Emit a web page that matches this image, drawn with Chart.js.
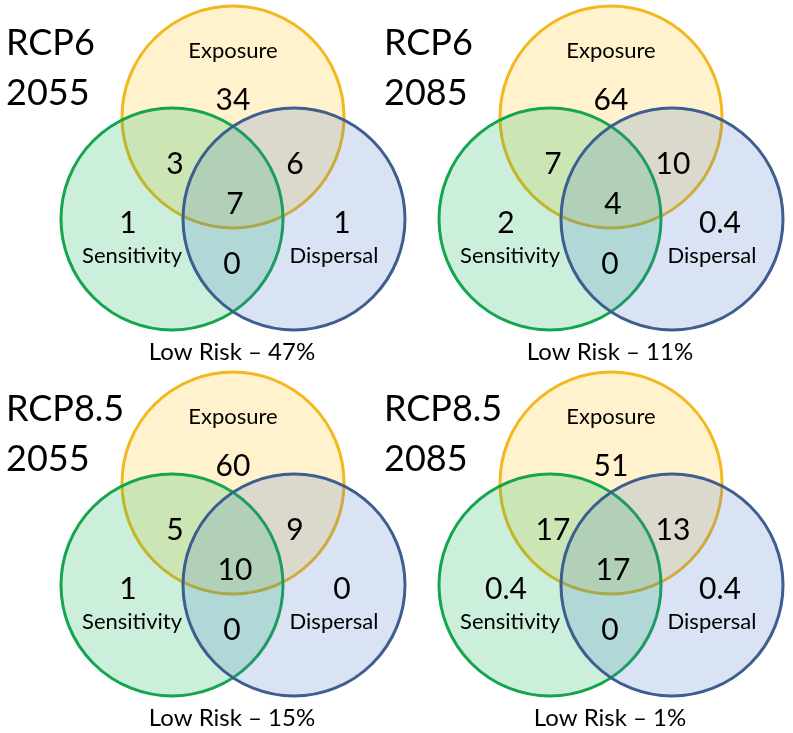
<!DOCTYPE html>
<html>
<head>
<meta charset="utf-8">
<script src="https://cdn.jsdelivr.net/npm/chart.js@4.4.1/dist/chart.umd.min.js"></script>
<style>
  html, body { margin: 0; padding: 0; background: #fff; }
  #venn { display: block; }
</style>
</head>
<body>
<canvas id="venn" width="793" height="733"></canvas>
<script>
// one entry per panel: RCP6 2055, RCP6 2085, RCP8.5 2055, RCP8.5 2085
const scenarios = ["RCP6", "RCP6", "RCP8.5", "RCP8.5"];
const years = ["2055", "2085", "2055", "2085"];
const setNames = ["Exposure", "Sensitivity", "Dispersal"];
const exposureOnly = [34, 64, 60, 51];
const exposureSensitivity = [3, 7, 5, 17];
const exposureDispersal = [6, 10, 9, 13];
const allThree = [7, 4, 10, 17];
const sensitivityOnly = [1, 2, 1, 0.4];
const sensitivityDispersal = [0, 0, 0, 0];
const dispersalOnly = [1, 0.4, 0, 0.4];
const lowRisk = [47, 11, 15, 1];

// panel layout (in scale units, 1 unit = 1 px)
const panelX = [233, 611, 233, 611];
const panelY = [117, 117, 483, 483];
const R = 111;
const offsets = { Exposure: [0, 0], Sensitivity: [-61, 102], Dispersal: [61, 102] };
const colors = {
  Exposure: { fill: "rgba(255, 192, 0, 0.2)", line: "#F2B81E" },
  Sensitivity: { fill: "rgba(0, 176, 80, 0.2)", line: "#14A54E" },
  Dispersal: { fill: "rgba(68, 114, 196, 0.2)", line: "#3D5E8E" }
};
const FONT = "Lato, 'Open Sans', sans-serif";

function radiusPx(ctx) {
  const x = ctx.chart.scales.x;
  if (!x) return 0;
  return Math.abs(x.getPixelForValue(R) - x.getPixelForValue(0));
}

const datasets = setNames.map((name, i) => ({
  label: name,
  order: setNames.length - i,
  data: panelX.map((px, p) => ({ x: px + offsets[name][0], y: panelY[p] + offsets[name][1] })),
  showLine: false,
  pointBackgroundColor: colors[name].fill,
  pointBorderColor: colors[name].line,
  pointBorderWidth: 3,
  pointHoverBorderWidth: 3,
  pointRadius: radiusPx,
  pointHoverRadius: radiusPx,
  clip: false
}));

const fmt = (v) => String(v);

const labelPlugin = {
  id: "vennLabels",
  afterDatasetsDraw(chart) {
    const { ctx, scales: { x, y } } = chart;
    const put = (text, vx, vy, size, align = "center") => {
      ctx.font = `${size}px ${FONT}`;
      ctx.textAlign = align;
      ctx.textBaseline = "alphabetic";
      ctx.fillText(text, x.getPixelForValue(vx), y.getPixelForValue(vy));
    };
    ctx.save();
    ctx.fillStyle = "#000";
    panelX.forEach((cx, p) => {
      const cy = panelY[p];
      put(scenarios[p], cx - 227, cy - 62, 36, "left");
      put(years[p], cx - 227, cy - 12, 36, "left");
      put(setNames[0], cx, cy - 59, 22);
      put(setNames[1], cx - 101, cy + 146, 22);
      put(setNames[2], cx + 101, cy + 146, 22);
      put(fmt(exposureOnly[p]), cx, cy - 7, 30);
      put(fmt(exposureSensitivity[p]), cx - 58, cy + 57, 30);
      put(fmt(exposureDispersal[p]), cx + 62, cy + 57, 30);
      put(fmt(allThree[p]), cx + 2, cy + 97, 30);
      put(fmt(sensitivityOnly[p]), cx - 105, cy + 116, 30);
      put(fmt(dispersalOnly[p]), cx + 109, cy + 116, 30);
      put(fmt(sensitivityDispersal[p]), cx - 1, cy + 157, 30);
      put(`Low Risk – ${lowRisk[p]}%`, cx - 1, cy + 243, 24);
    });
    ctx.restore();
  }
};

new Chart(document.querySelector("#venn"), {
  type: "scatter",
  data: { datasets },
  options: {
    responsive: false,
    animation: false,
    events: [],
    layout: { padding: 0 },
    plugins: { legend: { display: false }, tooltip: { enabled: false } },
    scales: {
      x: { type: "linear", min: 0, max: 793, display: false },
      y: { type: "linear", min: 0, max: 733, reverse: true, display: false }
    }
  },
  plugins: [labelPlugin]
});
</script>
</body>
</html>
